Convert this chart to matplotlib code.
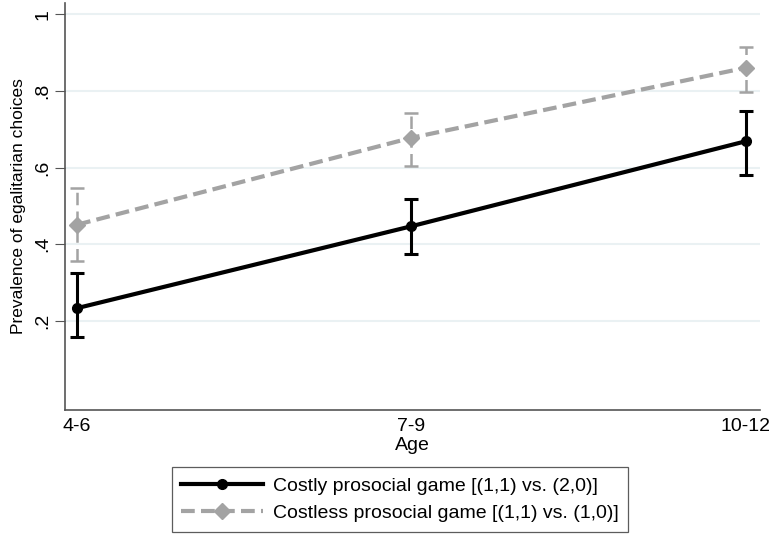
import matplotlib
matplotlib.use("Agg")
import matplotlib.pyplot as plt
import numpy as np

plt.rcParams["font.family"] = ["Liberation Sans", "DejaVu Sans"]

age_groups = ["4-6", "7-9", "10-12"]

costly_mean = [0.233, 0.447, 0.669]
costly_low = [0.158, 0.374, 0.582]
costly_high = [0.325, 0.519, 0.749]

costless_mean = [0.451, 0.678, 0.861]
costless_low = [0.355, 0.605, 0.797]
costless_high = [0.547, 0.743, 0.916]

y_ticks = [0.2, 0.4, 0.6, 0.8, 1.0]
y_tick_labels = [".2", ".4", ".6", ".8", "1"]

BLACK = "black"
GRAY = "#a3a3a3"

fig = plt.figure(figsize=(7.74, 5.35), dpi=100)
ax = fig.add_axes([65 / 774, 1 - 410 / 535, 695 / 774, 407 / 535])

x = np.arange(len(age_groups))

# grey dashed series (costless)
m = np.array(costless_mean)
err = [m - np.array(costless_low), np.array(costless_high) - m]
eb = ax.errorbar(x, m, yerr=err, fmt="none", ecolor=GRAY, elinewidth=1.8,
                 capsize=5, capthick=1.8, zorder=2)
eb[2][0].set_linestyle((0, (5, 2.5)))
ax.plot(x, m, color=GRAY, lw=3, dashes=(3.3, 1.5), marker="D", ms=8,
        label="Costless prosocial game [(1,1) vs. (1,0)]", zorder=3)

# black solid series (costly)
m = np.array(costly_mean)
err = [m - np.array(costly_low), np.array(costly_high) - m]
ax.errorbar(x, m, yerr=err, fmt="none", ecolor=BLACK, elinewidth=2.2,
            capsize=5, capthick=2.2, zorder=4)
ax.plot(x, m, color=BLACK, lw=3, marker="o", ms=7,
        label="Costly prosocial game [(1,1) vs. (2,0)]", zorder=5)

ax.set_xlim(-0.036, 2.042)
ax.set_ylim(-0.033, 1.03)
ax.set_xticks(x)
ax.set_xticklabels(age_groups, fontsize=14)
ax.tick_params(axis="x", length=0, pad=6)
ax.set_yticks(y_ticks)
ax.set_yticklabels(y_tick_labels, fontsize=14, rotation=90, va="center")
ax.tick_params(axis="y", length=7, width=0.8, color="#555555", pad=3)
ax.yaxis.grid(True, color="#eaf1f3", lw=1.5)
ax.set_axisbelow(True)

for side in ["top", "right"]:
    ax.spines[side].set_visible(False)
for side in ["left", "bottom"]:
    ax.spines[side].set_color("#555555")
    ax.spines[side].set_linewidth(1.2)

ax.set_xlabel("Age", fontsize=14, labelpad=1)
ax.set_ylabel("Prevalence of egalitarian choices", fontsize=12.5, labelpad=6)

handles, labels = ax.get_legend_handles_labels()
leg = fig.legend(handles[::-1], labels[::-1], loc="center",
                 bbox_to_anchor=(400 / 774, 1 - 499.5 / 535), fontsize=14,
                 handlelength=4.2, frameon=True, fancybox=False,
                 edgecolor="#333333", borderpad=0.5, labelspacing=0.5,
                 handletextpad=0.5)
leg.get_frame().set_linewidth(0.9)

fig.savefig("out.png", dpi=100)
